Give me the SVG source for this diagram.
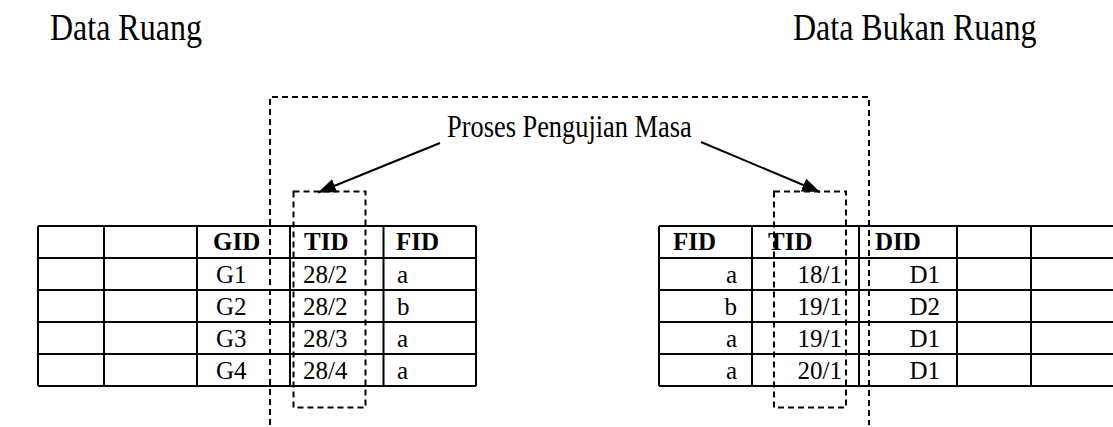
<svg xmlns="http://www.w3.org/2000/svg" width="1113" height="427" viewBox="0 0 1113 427">
<style>
text{font-family:"Liberation Serif","Times New Roman",serif;fill:#000}
.title{font-size:32px}
.lbl{font-size:26.4px}
.cell{font-size:25px}
.hd{font-size:25px;font-weight:bold}
.grid{stroke:#000;stroke-width:2;fill:none}
.dash{stroke:#000;stroke-width:2;fill:none;stroke-dasharray:6 4}
.arrow{stroke:#000;stroke-width:2;fill:none}
</style>
<defs>
<marker id="ah" viewBox="0 0 18 14" refX="18" refY="7" markerWidth="18" markerHeight="14" markerUnits="userSpaceOnUse" orient="auto">
<path d="M0,0 L18,7 L0,14 z" fill="#000"/>
</marker>
</defs>
<g id="title-left"><text class="title" transform="translate(50,40) scale(1,1.2)">Data Ruang</text></g>
<g id="title-right"><text class="title" transform="translate(793,40) scale(1,1.2)">Data Bukan Ruang</text></g>
<g id="process">
<path class="dash" d="M270,425 V97 H869 V425"/>
<text class="lbl" transform="translate(447,137) scale(1,1.2)">Proses Pengujian Masa</text>
</g>
<g id="table-left">
<path class="grid" d="M38,226 H476 M38,258 H476 M38,290 H476 M38,322 H476 M38,354 H476 M38,386 H476 M38,226 V386 M104,226 V386 M197,226 V386 M290,226 V386 M383.5,226 V386 M476,226 V386"/>
<text class="hd" x="213" y="250">GID</text>
<text class="hd" x="304" y="250">TID</text>
<text class="hd" x="396" y="250">FID</text>
<text class="cell" x="216" y="282.5">G1</text>
<text class="cell" x="303" y="282.5">28/2</text>
<text class="cell" x="397" y="282.5">a</text>
<text class="cell" x="216" y="314.5">G2</text>
<text class="cell" x="303" y="314.5">28/2</text>
<text class="cell" x="397" y="314.5">b</text>
<text class="cell" x="216" y="346.5">G3</text>
<text class="cell" x="303" y="346.5">28/3</text>
<text class="cell" x="397" y="346.5">a</text>
<text class="cell" x="216" y="378.5">G4</text>
<text class="cell" x="303" y="378.5">28/4</text>
<text class="cell" x="397" y="378.5">a</text>
</g>
<g id="table-right">
<path class="grid" d="M659,226 H1113 M659,258 H1113 M659,290 H1113 M659,322 H1113 M659,354 H1113 M659,386 H1113 M659,226 V386 M752,226 V386 M859,226 V386 M957,226 V386 M1031,226 V386"/>
<text class="hd" x="673" y="250">FID</text>
<text class="hd" x="768" y="250">TID</text>
<text class="hd" x="875" y="250">DID</text>
<text class="cell" x="737" y="282.5" text-anchor="end">a</text>
<text class="cell" x="842" y="282.5" text-anchor="end">18/1</text>
<text class="cell" x="940" y="282.5" text-anchor="end">D1</text>
<text class="cell" x="737" y="314.5" text-anchor="end">b</text>
<text class="cell" x="842" y="314.5" text-anchor="end">19/1</text>
<text class="cell" x="940" y="314.5" text-anchor="end">D2</text>
<text class="cell" x="737" y="346.5" text-anchor="end">a</text>
<text class="cell" x="842" y="346.5" text-anchor="end">19/1</text>
<text class="cell" x="940" y="346.5" text-anchor="end">D1</text>
<text class="cell" x="737" y="378.5" text-anchor="end">a</text>
<text class="cell" x="842" y="378.5" text-anchor="end">20/1</text>
<text class="cell" x="940" y="378.5" text-anchor="end">D1</text>
</g>
<g id="tid-box-left"><rect class="dash" x="293.5" y="191.5" width="72" height="216"/></g>
<g id="tid-box-right"><rect class="dash" x="774" y="191.5" width="72" height="216"/></g>
<g id="connectors">
<line class="arrow" x1="440" y1="143" x2="318" y2="192.5" marker-end="url(#ah)"/>
<line class="arrow" x1="701" y1="142" x2="820" y2="192" marker-end="url(#ah)"/>
</g>
</svg>
